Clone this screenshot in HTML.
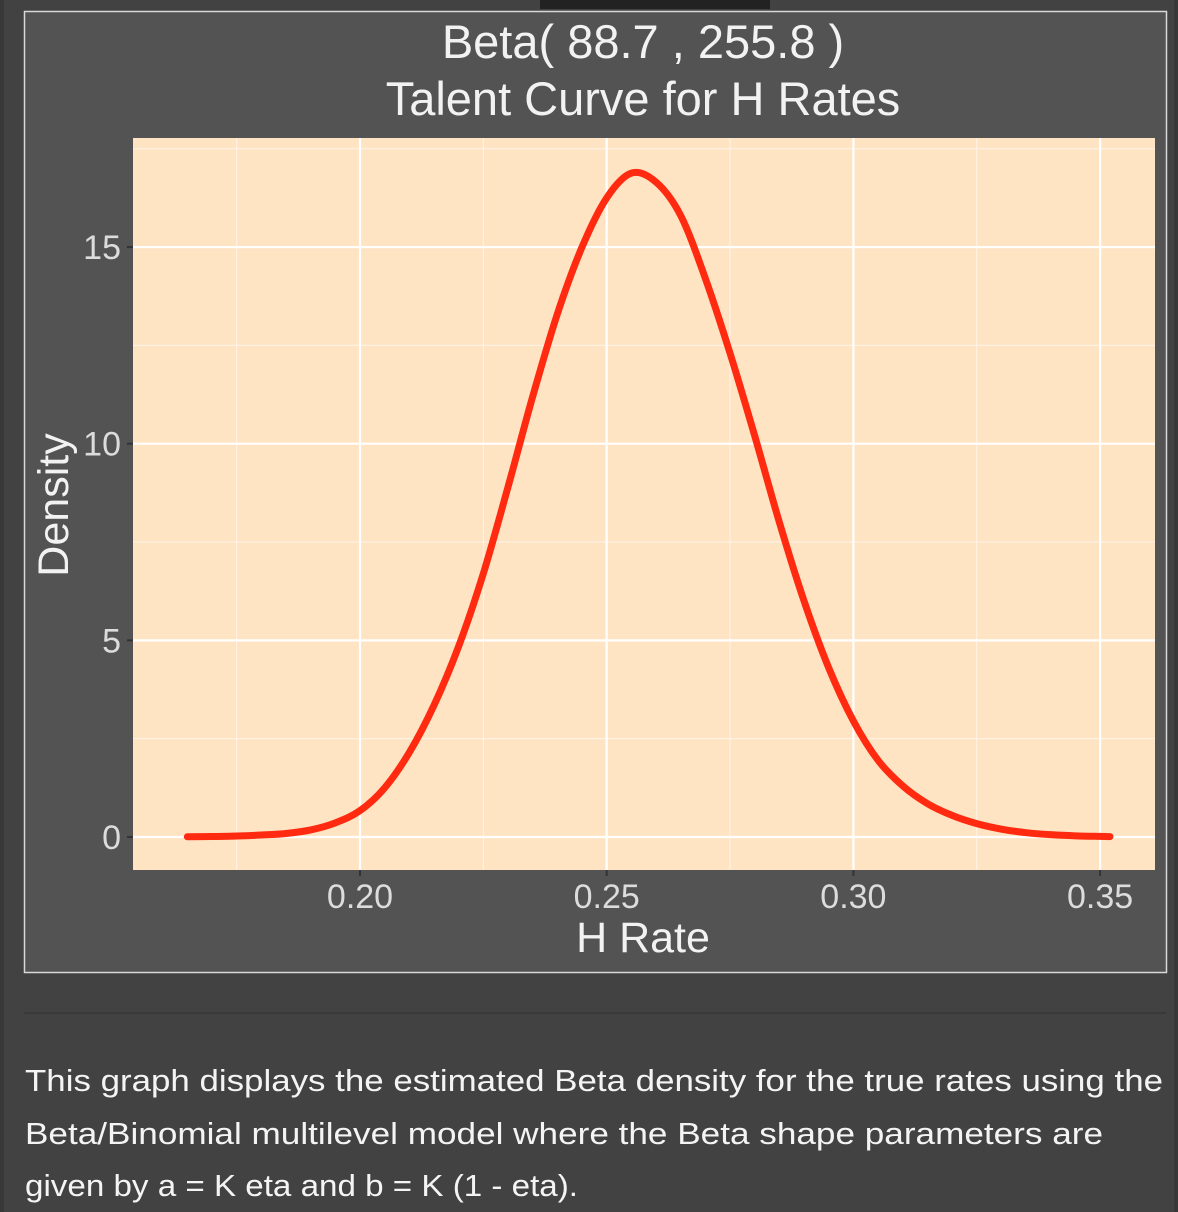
<!DOCTYPE html>
<html><head><meta charset="utf-8"><style>
html,body{margin:0;padding:0;background:#424242;}
svg{display:block;font-family:"Liberation Sans",sans-serif;}
</style></head><body>
<svg id="chart" width="1178" height="1212" viewBox="0 0 1178 1212">
<rect x="0" y="0" width="1178" height="1212" fill="#424242"/>
<rect x="0" y="0" width="4" height="1212" fill="#383838"/>
<rect x="1174" y="0" width="4" height="1212" fill="#383838"/>
<rect x="540" y="0" width="230" height="9" fill="#222"/>
<rect x="24.5" y="11.5" width="1142" height="961" fill="#535353" stroke="#d8d8d8" stroke-width="1.5"/>
<text x="643" y="58" text-anchor="middle" font-size="47" fill="#f2f2f2">Beta( 88.7 , 255.8 )</text>
<text x="643" y="115" text-anchor="middle" font-size="47" fill="#f2f2f2">Talent Curve for H Rates</text>
<rect x="133" y="138" width="1022" height="732" fill="#ffe4c4"/>
<g id="grid"></g>
<g id="axes"></g>
<path id="curve" fill="none" stroke="#ff2a10" stroke-width="7" stroke-linecap="round" stroke-linejoin="round"/>
<text x="0" y="0" transform="translate(68,505) rotate(-90)" text-anchor="middle" font-size="43" fill="#f2f2f2">Density</text>
<text x="643" y="952" text-anchor="middle" font-size="43" fill="#f2f2f2">H Rate</text>
<line x1="24" y1="1013" x2="1166" y2="1013" stroke="#393939" stroke-width="2"/>
<g font-size="31" fill="#f4f4f4">
<text x="25" y="1091" textLength="1138" lengthAdjust="spacingAndGlyphs">This graph displays the estimated Beta density for the true rates using the</text>
<text x="25" y="1144" textLength="1078" lengthAdjust="spacingAndGlyphs">Beta/Binomial multilevel model where the Beta shape parameters are</text>
<text x="25" y="1196" textLength="553" lengthAdjust="spacingAndGlyphs">given by a = K eta and b = K (1 - eta).</text>
</g>
</svg>
<script>
const xValues=[0.165,0.17,0.175,0.18,0.185,0.19,0.195,0.20,0.205,0.21,0.215,0.22,0.225,0.23,0.235,0.24,0.245,0.25,0.255,0.26,0.265,0.27,0.275,0.28,0.285,0.29,0.295,0.30,0.305,0.31,0.315,0.32,0.325,0.33,0.335,0.34,0.345,0.35,0.352];
const densityValues=[0.005,0.012,0.025,0.05,0.09,0.18,0.36,0.67,1.25,2.15,3.35,4.85,6.7,8.9,11.2,13.3,15.0,16.25,16.88,16.65,15.8,14.2,12.3,10.2,8.0,6.0,4.3,2.95,1.95,1.3,0.85,0.55,0.34,0.2,0.11,0.06,0.03,0.015,0.01];
const xTicks=[0.20,0.25,0.30,0.35];
const xTickLabels=["0.20","0.25","0.30","0.35"];
const xMinor=[0.175,0.225,0.275,0.325];
const yTicks=[0,5,10,15];
const yTickLabels=["0","5","10","15"];
const yMinor=[2.5,7.5,12.5,17.5];

const NS="http://www.w3.org/2000/svg";
function sx(v){return 360+(v-0.20)*(246.7/0.05);}
function sy(v){return 837-v*(393.3/10);}
const grid=document.getElementById('grid'),axes=document.getElementById('axes');
function ln(p,x1,y1,x2,y2,c,w){const l=document.createElementNS(NS,'line');l.setAttribute('x1',x1);l.setAttribute('y1',y1);l.setAttribute('x2',x2);l.setAttribute('y2',y2);l.setAttribute('stroke',c);l.setAttribute('stroke-width',w);p.appendChild(l);return l;}
xMinor.forEach(v=>{const l=ln(grid,sx(v),138,sx(v),870,'#fff4e8',1);

});
yMinor.forEach(v=>{const l=ln(grid,133,sy(v),1155,sy(v),'#fff4e8',1);

});
xTicks.forEach((v,i)=>{const l=ln(grid,sx(v),138,sx(v),870,'#ffffff',2.2);


const t=ln(axes,sx(v),870,sx(v),876,'#333',2);


const tx=document.createElementNS(NS,'text');tx.setAttribute('x',sx(v));tx.setAttribute('y',908);tx.setAttribute('text-anchor','middle');tx.setAttribute('font-size','34');tx.setAttribute('fill','#dcdcdc');tx.textContent=xTickLabels[i];


axes.appendChild(tx);});
yTicks.forEach((v,i)=>{const l=ln(grid,133,sy(v),1155,sy(v),'#ffffff',2.2);


const t=ln(axes,127,sy(v),133,sy(v),'#333',2);


const tx=document.createElementNS(NS,'text');tx.setAttribute('x',121);tx.setAttribute('y',sy(v)+12);tx.setAttribute('text-anchor','end');tx.setAttribute('font-size','34');tx.setAttribute('fill','#dcdcdc');tx.textContent=yTickLabels[i];


axes.appendChild(tx);});
const pts=xValues.map((x,i)=>[sx(x),sy(densityValues[i])]);
let d='M'+pts[0][0]+','+pts[0][1];
for(let i=0;i<pts.length-1;i++){const p0=pts[Math.max(0,i-1)],p1=pts[i],p2=pts[i+1],p3=pts[Math.min(pts.length-1,i+2)];
const c1=[p1[0]+(p2[0]-p0[0])/6,p1[1]+(p2[1]-p0[1])/6],c2=[p2[0]-(p3[0]-p1[0])/6,p2[1]-(p3[1]-p1[1])/6];
d+=' C'+c1[0]+','+c1[1]+' '+c2[0]+','+c2[1]+' '+p2[0]+','+p2[1];}
document.getElementById('curve').setAttribute('d',d);
</script>
</body></html>
